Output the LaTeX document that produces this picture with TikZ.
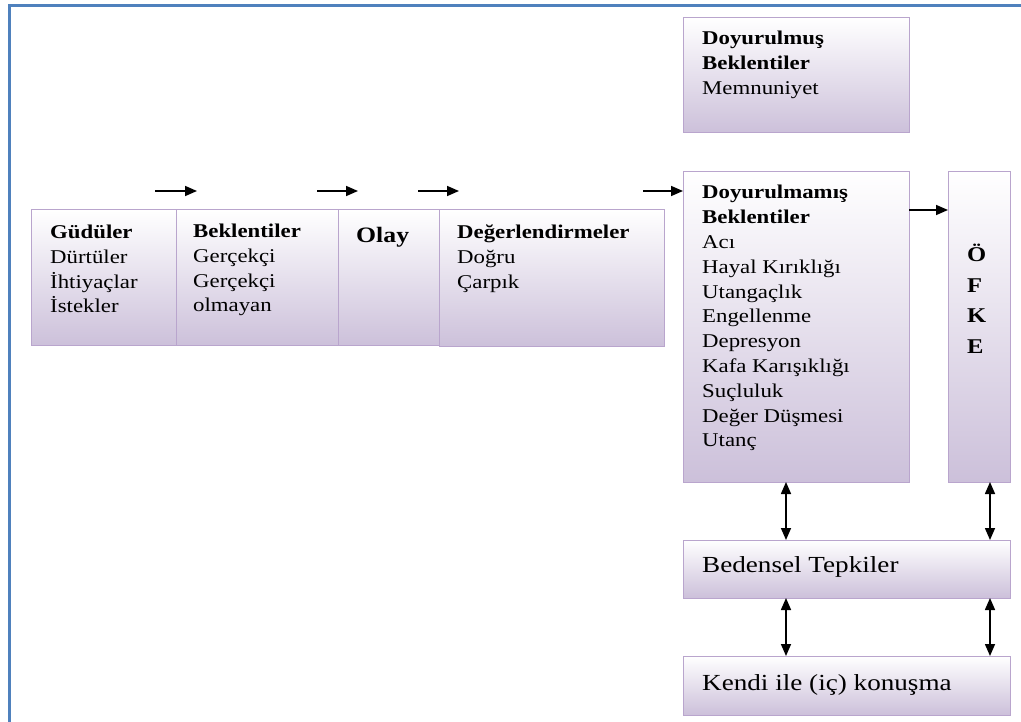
\documentclass[tikz,border=0pt]{standalone}
\usepackage{fontspec}
\setmainfont{Liberation Serif}[FakeStretch=1.17]
\newfontfamily\bigserif{Liberation Serif}[FakeStretch=1.18]
\usetikzlibrary{arrows.meta,calc}
\definecolor{frameblue}{RGB}{79,129,189}
\definecolor{boxline}{RGB}{185,165,205}
\definecolor{lav}{RGB}{204,192,218}
\newcommand\mylines[1]{\begin{tabular}[t]{@{}l@{}}#1\end{tabular}}
\begin{document}
\begin{tikzpicture}[x=1pt,y=-1pt,
  box/.style={draw=boxline,line width=1pt,top color=white,bottom color=lav,inner sep=0pt,outer sep=0pt,anchor=north west},
  txt/.style={anchor=base west,inner sep=0pt,font=\fontsize{19.5}{24.6}\selectfont},
  bigtxt/.style={anchor=base west,inner sep=0pt,font=\bigserif\fontsize{23}{28}\selectfont},
  arr/.style={line width=1.6pt,-{Triangle[length=12pt,width=10pt]}},
  darr/.style={line width=1.6pt,{Triangle[length=12pt,width=10pt]}-{Triangle[length=12pt,width=10pt]}}]
\useasboundingbox (0,0) rectangle (1021,722);
% frame
\draw[frameblue,line width=2.5pt] (9.5,722) -- (9.5,5.5) -- (1021,5.5);
% boxes
\node[box,minimum width=145pt,minimum height=136pt] (gud) at (31,210) {};
\node[box,minimum width=162pt,minimum height=136pt] (bek) at (176,210) {};
\node[box,minimum width=101pt,minimum height=136pt] (olay) at (338,210) {};
\node[box,minimum width=225pt,minimum height=137pt] (deg) at (439,210) {};
\node[box,minimum width=226pt,minimum height=115pt] (dy) at (683,18) {};
\node[box,minimum width=226pt,minimum height=310pt] (dm) at (683,172) {};
\node[box,minimum width=62pt,minimum height=310pt] (ofke) at (948,172) {};
\node[box,minimum width=327pt,minimum height=58pt] (bt) at (683,540) {};
\node[box,minimum width=327pt,minimum height=59pt] (kk) at (683,656) {};
% texts
\node[txt] (tgud) at (50,239) {\mylines{\textbf{Güdüler}\\Dürtüler\\İhtiyaçlar\\İstekler}};
\node[txt] (tbek) at (193,238) {\mylines{\textbf{Beklentiler}\\Gerçekçi\\Gerçekçi\\olmayan}};
\node[txt,font=\bfseries\fontsize{22}{26}\selectfont] (tolay) at (356,243) {Olay};
\node[txt] (tdeg) at (457,239) {\mylines{\textbf{Değerlendirmeler}\\Doğru\\Çarpık}};
\node[txt] (tdy) at (702,45) {\mylines{\textbf{Doyurulmuş}\\\textbf{Beklentiler}\\Memnuniyet}};
\node[txt,font=\fontsize{19.5}{24.8}\selectfont] (tdm) at (702,199) {\mylines{\textbf{Doyurulmamış}\\\textbf{Beklentiler}\\Acı\\Hayal Kırıklığı\\Utangaçlık\\Engellenme\\Depresyon\\Kafa Karışıklığı\\Suçluluk\\Değer Düşmesi\\Utanç}};
\node[txt,font=\bfseries\fontsize{21}{30.5}\selectfont] (tofke) at (967,262) {\mylines{Ö\\F\\K\\E}};
\node[bigtxt] (tbt) at (702,572) {Bedensel Tepkiler};
\node[bigtxt] (tkk) at (702,690) {Kendi ile (iç) konuşma};
% top arrows
\coordinate (a1s) at (155,191); \coordinate (a1e) at (197,191);
\coordinate (a2s) at (317,191); \coordinate (a2e) at (358,191);
\coordinate (a3s) at (418,191); \coordinate (a3e) at (459,191);
\coordinate (a4s) at (643,191);
\draw[arr] (a1s) -- (a1e);
\draw[arr] (a2s) -- (a2e);
\draw[arr] (a3s) -- (a3e);
\draw[arr] (a4s) -- (a4s -| dm.west);
\draw[arr] ([yshift=-38pt]dm.north east) -- ([yshift=-38pt]ofke.north west);
% double arrows
\coordinate (p1) at ([xshift=-10pt]dm.south);
\coordinate (p2) at ([xshift=11pt]ofke.south);
\coordinate (p3) at ([xshift=-10pt]dm.south |- bt.south);
\coordinate (p4) at ([xshift=11pt]ofke.south |- bt.south);
\draw[darr] (p1) -- (p1 |- bt.north);
\draw[darr] (p2) -- (p2 |- bt.north);
\draw[darr] (p3) -- (p3 |- kk.north);
\draw[darr] (p4) -- (p4 |- kk.north);
\end{tikzpicture}
\end{document}
